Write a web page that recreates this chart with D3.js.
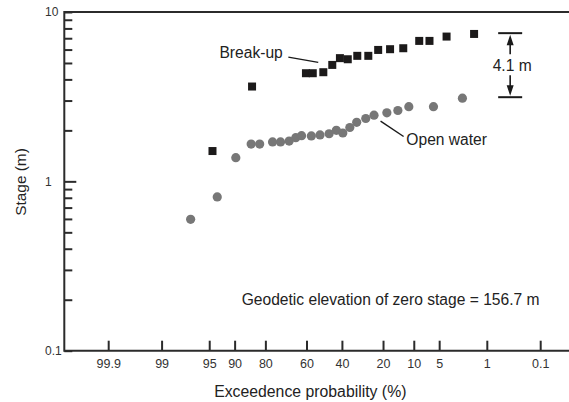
<!DOCTYPE html>
<html>
<head>
<meta charset="utf-8">
<script src="https://cdn.jsdelivr.net/npm/d3@7"></script>
<style>
  body { margin: 0; background: #fff; }
  svg text { font-family: "Liberation Sans", Arial, sans-serif; }
</style>
</head>
<body>
<svg id="chart" width="569" height="402"></svg>
<script>
// exceedance probability (%) and stage (m)
const breakupProb  = [94.5, 84.9, 60.3, 56.5, 50.5, 45.4, 41.1, 36.8, 31.8, 26.4, 22.0, 17.3, 12.9, 8.7, 6.6, 4.0, 1.6];
const breakupStage = [1.51, 3.63, 4.35, 4.35, 4.41, 4.87, 5.34, 5.26, 5.51, 5.51, 5.97, 6.03, 6.11, 6.75, 6.75, 7.16, 7.42];

const openProb  = [97.2, 93.7, 89.7, 85.2, 82.2, 77.0, 73.4, 69.2, 65.8, 62.7, 57.3, 52.4, 47.2, 43.1, 39.5, 35.7, 32.1, 27.6, 23.8, 18.5, 14.6, 11.3, 5.9, 2.4];
const openStage = [0.597, 0.809, 1.38, 1.66, 1.66, 1.71, 1.71, 1.73, 1.81, 1.86, 1.855, 1.88, 1.91, 2.00, 1.93, 2.08, 2.23, 2.35, 2.46, 2.54, 2.62, 2.76, 2.76, 3.10];

const probTicks  = [99.9, 99, 95, 90, 80, 60, 40, 20, 10, 5, 1, 0.1];
const stageMajor = [0.1, 1, 10];
const stageMinor = [0.2, 0.3, 0.4, 0.5, 0.6, 0.7, 0.8, 0.9, 2, 3, 4, 5, 6, 7, 8, 9];

// annotation: range of the "4.1 m" bracket
const bracket = {prob: 0.39, top: 7.5, bottom: 3.14, label: "4.1 m"};

// inverse normal cdf (Acklam)
function probit(p) {
  const a = [-39.69683028665376, 220.9460984245205, -275.9285104469687, 138.3577518672690, -30.66479806614716, 2.506628277459239],
        b = [-54.47609879822406, 161.5858368580409, -155.6989798598866, 66.80131188771972, -13.28068155288572],
        c = [-0.007784894002430293, -0.3223964580411365, -2.400758277161838, -2.549732539343734, 4.374664141464968, 2.938163982698783],
        d = [0.007784695709041462, 0.3224671290700398, 2.445134137142996, 3.754408661907416];
  const lo = 0.02425, hi = 1 - lo;
  let q, r;
  if (p < lo) {
    q = Math.sqrt(-2 * Math.log(p));
    return (((((c[0]*q+c[1])*q+c[2])*q+c[3])*q+c[4])*q+c[5]) / ((((d[0]*q+d[1])*q+d[2])*q+d[3])*q+1);
  }
  if (p > hi) {
    q = Math.sqrt(-2 * Math.log(1 - p));
    return -(((((c[0]*q+c[1])*q+c[2])*q+c[3])*q+c[4])*q+c[5]) / ((((d[0]*q+d[1])*q+d[2])*q+d[3])*q+1);
  }
  q = p - 0.5; r = q*q;
  return (((((a[0]*r+a[1])*r+a[2])*r+a[3])*r+a[4])*r+a[5])*q / (((((b[0]*r+b[1])*r+b[2])*r+b[3])*r+b[4])*r+1);
}
// exceedance % -> standard normal variate (left = high exceedance)
const zOf = p => probit(1 - p / 100);

const svg = d3.select("#chart");
const plot = {left: 64.3, top: 12, bottom: 350.7, right: 580};

const zScale = d3.scaleLinear().domain([zOf(99.9), zOf(0.1)]).range([108.2, 540.2]);
const x = p => zScale(zOf(p));
const y = d3.scaleLog().domain([0.1, 10]).range([plot.bottom, plot.top]);

const axisColor = "#2b2b2b";

// x axis, ticks pointing up into the plot
const xAxis = d3.axisBottom(zScale)
  .tickValues(probTicks.map(zOf))
  .tickFormat((d, i) => probTicks[i])
  .tickSizeInner(-10)
  .tickSizeOuter(0)
  .tickPadding(8);

svg.append("g")
  .attr("transform", `translate(0,${plot.bottom})`)
  .call(xAxis)
  .call(g => g.select(".domain").remove())
  .call(g => g.selectAll(".tick line").attr("stroke", axisColor).attr("stroke-width", 2))
  .call(g => g.selectAll(".tick text")
    .attr("fill", "#333")
    .style("font-size", "12.5px")
    .style("font-family", "'Liberation Sans', Arial, sans-serif"));

// y axis, ticks pointing right into the plot
const yAxis = d3.axisLeft(y)
  .tickValues([...stageMajor, ...stageMinor])
  .tickFormat(d => stageMajor.includes(d) ? d3.format("~g")(d) : "")
  .tickSizeInner(-8)
  .tickSizeOuter(0)
  .tickPadding(0);

svg.append("g")
  .attr("transform", `translate(${plot.left},0)`)
  .call(yAxis)
  .call(g => g.select(".domain").remove())
  .call(g => g.selectAll(".tick line")
    .attr("stroke", axisColor).attr("stroke-width", 2)
    .attr("x2", d => d === 1 ? 12 : 8))
  .call(g => g.selectAll(".tick text")
    .attr("text-anchor", "start")
    .attr("x", 45 - plot.left)
    .attr("fill", "#333")
    .style("font-size", "12px")
    .style("font-family", "'Liberation Sans', Arial, sans-serif"));

// frame: left, top and bottom (right side runs off the page)
svg.append("path")
  .attr("d", `M${plot.right},${plot.top}H${plot.left}V${plot.bottom}H${plot.right}`)
  .attr("fill", "none")
  .attr("stroke", axisColor)
  .attr("stroke-width", 2);

// open water circles
svg.append("g").selectAll("circle")
  .data(openProb.map((p, i) => ({p, s: openStage[i]})))
  .join("circle")
  .attr("cx", d => x(d.p))
  .attr("cy", d => y(d.s))
  .attr("r", 4.6)
  .attr("fill", "#777");

// break-up squares
const sq = 8;
svg.append("g").selectAll("rect")
  .data(breakupProb.map((p, i) => ({p, s: breakupStage[i]})))
  .join("rect")
  .attr("x", d => x(d.p) - sq / 2)
  .attr("y", d => y(d.s) - sq / 2)
  .attr("width", sq)
  .attr("height", sq)
  .attr("fill", "#1c1a1a");

// labels + leader lines
const labelFont = "15.6px";
const leaders = [
  {text: "Break-up",   at: [93.3, 5.38], from: [69.6, 5.41], to: [53.4, 5.04]},
  {text: "Open water", at: [12.0, 1.63], from: [21.0, 2.27], to: [12.8, 1.84]}
];
leaders.forEach(l => {
  svg.append("line")
    .attr("x1", x(l.from[0])).attr("y1", y(l.from[1]))
    .attr("x2", x(l.to[0])).attr("y2", y(l.to[1]))
    .attr("stroke", "#1a1a1a").attr("stroke-width", 1.4);
  svg.append("text")
    .attr("x", x(l.at[0])).attr("y", y(l.at[1]))
    .attr("fill", "#222")
    .style("font-size", labelFont)
    .text(l.text);
});

// 4.1 m bracket
const bx = x(bracket.prob), yTop = y(bracket.top), yBot = y(bracket.bottom),
      yMid = (yTop + yBot) / 2;
const br = svg.append("g").attr("stroke", "#1a1a1a").attr("stroke-width", 2);
br.append("line").attr("x1", bx - 12).attr("x2", bx + 12).attr("y1", yTop).attr("y2", yTop);
br.append("line").attr("x1", bx - 12).attr("x2", bx + 12).attr("y1", yBot).attr("y2", yBot);
br.append("line").attr("x1", bx).attr("x2", bx).attr("y1", yTop + 8).attr("y2", yMid - 11).attr("stroke-width", 1.6);
br.append("line").attr("x1", bx).attr("x2", bx).attr("y1", yMid + 10).attr("y2", yBot - 8).attr("stroke-width", 1.6);
svg.append("path")
  .attr("d", `M${bx},${yTop + 1.5}L${bx - 3.5},${yTop + 12}L${bx + 3.5},${yTop + 12}Z` +
             `M${bx},${yBot - 1.5}L${bx - 3.5},${yBot - 12}L${bx + 3.5},${yBot - 12}Z`)
  .attr("fill", "#1a1a1a");
svg.append("text")
  .attr("x", bx + 2).attr("y", yMid + 5.5)
  .attr("text-anchor", "middle")
  .attr("fill", "#222")
  .style("font-size", labelFont)
  .text(bracket.label);

// zero stage note
svg.append("text")
  .attr("x", x(88.1)).attr("y", y(0.186))
  .attr("fill", "#222")
  .style("font-size", labelFont)
  .text("Geodetic elevation of zero stage = 156.7 m");

// axis titles
svg.append("text")
  .attr("x", 310.3).attr("y", 397)
  .attr("text-anchor", "middle")
  .attr("fill", "#222")
  .style("font-size", "15.8px")
  .text("Exceedence probability (%)");

svg.append("text")
  .attr("transform", "translate(25.5,182) rotate(-90)")
  .attr("text-anchor", "middle")
  .attr("fill", "#222")
  .style("font-size", "15.4px")
  .text("Stage (m)");
</script>
</body>
</html>
